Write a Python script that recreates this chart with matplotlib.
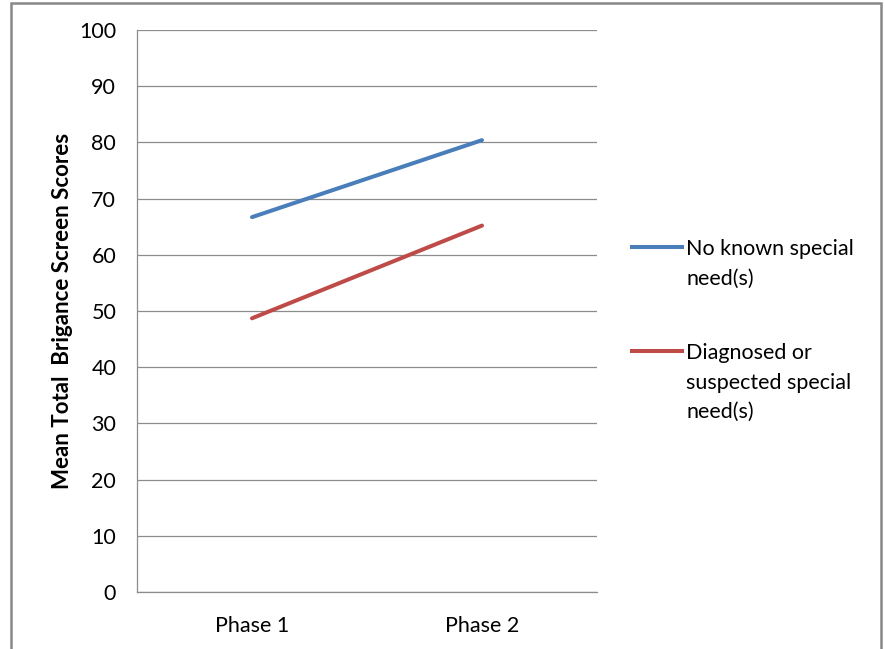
import matplotlib
matplotlib.use("Agg")
import matplotlib.pyplot as plt
from matplotlib.lines import Line2D
from matplotlib.patches import Rectangle

plt.rcParams['font.family'] = ['Lato', 'DejaVu Sans']

# Datos
phases = ['Phase 1', 'Phase 2']
no_known = [66.7, 80.4]
diagnosed = [48.7, 65.2]
series_labels = ['No known special\nneed(s)', 'Diagnosed or\nsuspected special\nneed(s)']
series_colors = ['#4A7EBB', '#BE4B48']
y_ticks = list(range(0, 101, 10))

fig = plt.figure(figsize=(8.85, 6.49), dpi=100)
ax = fig.add_axes([137 / 885, 57 / 649, 460 / 885, 562 / 649])

x = range(len(phases))
ax.plot(x, no_known, color=series_colors[0], linewidth=2.9, solid_capstyle='round')
ax.plot(x, diagnosed, color=series_colors[1], linewidth=2.9, solid_capstyle='round')

ax.set_xlim(-0.5, len(phases) - 0.5)
ax.set_ylim(0, 100)
ax.set_yticks(y_ticks)
ax.set_xticks(list(x))
ax.set_xticklabels(phases)
ax.tick_params(axis='both', length=0, labelsize=15.5, colors='#000000')
ax.tick_params(axis='y', pad=15)
ax.tick_params(axis='x', pad=17)
ax.grid(axis='y', color='#8C8C8C', linewidth=0.9)
ax.set_axisbelow(True)
for s in ['top', 'right']:
    ax.spines[s].set_visible(False)
for s in ['left', 'bottom']:
    ax.spines[s].set_color('#8C8C8C')
    ax.spines[s].set_linewidth(0.9)

ax.set_ylabel('Mean Total  Brigance Screen Scores', fontsize=16, fontweight='bold', labelpad=4)

# Leyenda manual (linea alineada con la primera linea del texto)
legend_y = [247, 351]
for lab, col, yy in zip(series_labels, series_colors, legend_y):
    fy = 1 - yy / 649
    fig.add_artist(Line2D([632 / 885, 682 / 885], [fy, fy], color=col,
                          linewidth=2.9, transform=fig.transFigure))
    fig.text(686 / 885, 1 - (yy - 8) / 649, lab, fontsize=15.5, va='top', ha='left',
             linespacing=1.6, transform=fig.transFigure)

# Marco de la figura
fig.add_artist(Rectangle((11 / 885, -0.05), 870 / 885, 1.05 - 3 / 649,
                         transform=fig.transFigure, fill=False,
                         edgecolor='#888888', linewidth=1.8))

fig.savefig('out.png', dpi=100)
